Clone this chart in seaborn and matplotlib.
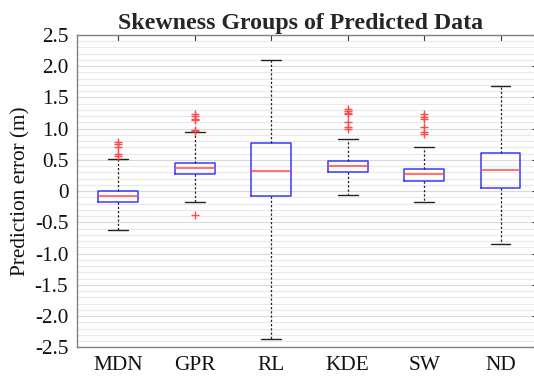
import numpy as np
import pandas as pd
import matplotlib
matplotlib.use("Agg")
import matplotlib.pyplot as plt
from matplotlib.ticker import MultipleLocator, FixedLocator
import seaborn as sns

# ---- data ----
categories = ["MDN", "GPR", "RL", "KDE", "SW", "ND"]
lower_whisker = [-0.63, -0.17, -2.36, -0.06, -0.17, -0.84]
q1 = [-0.18, 0.28, -0.07, 0.31, 0.17, 0.05]
median = [-0.08, 0.37, 0.32, 0.40, 0.28, 0.34]
q3 = [0.00, 0.45, 0.77, 0.48, 0.35, 0.61]
upper_whisker = [0.51, 0.94, 2.10, 0.84, 0.71, 1.68]
outliers_mdn = [0.78, 0.75, 0.70, 0.60, 0.56]
outliers_gpr = [1.24, 1.21, 1.15, 1.14, 0.98, 0.96, -0.38]
outliers_rl = []
outliers_kde = [1.32, 1.29, 1.25, 1.23, 1.10, 1.03, 0.99]
outliers_sw = [1.23, 1.19, 1.16, 1.02, 0.94, 0.91]
outliers_nd = []
yticks = [2.5, 2.0, 1.5, 1.0, 0.5, 0, -0.5, -1.0, -1.5, -2.0, -2.5]
ytick_labels = ["2.5", "2.0", "1.5", "1.0", "0.5", "0", "-0.5", "-1.0", "-1.5", "-2.0", "-2.5"]

# five-number summaries as long-form data (quartiles computed exactly by seaborn)
rows = []
for i, c in enumerate(categories):
    for v in (lower_whisker[i], q1[i], median[i], q3[i], upper_whisker[i]):
        rows.append({"group": c, "value": v})
df_box = pd.DataFrame(rows)

out_lists = [outliers_mdn, outliers_gpr, outliers_rl, outliers_kde, outliers_sw, outliers_nd]
orows = []
for c, lst in zip(categories, out_lists):
    for v in lst:
        orows.append({"group": c, "value": v})
df_out = pd.DataFrame(orows)

sns.set_style("white")
plt.rcParams["font.family"] = ["Liberation Serif", "DejaVu Serif"]

fig = plt.figure(figsize=(5.34, 3.81), dpi=100)
ax = fig.add_axes([76.7 / 534, 1 - 347.3 / 381, (538 - 76.7) / 534, (347.3 - 35) / 381])

# grid
ax.set_axisbelow(True)
ax.yaxis.set_minor_locator(MultipleLocator(0.1))
ax.grid(True, which="minor", axis="y", color="#e9e9e9", linewidth=0.8)
ax.grid(True, which="major", axis="y", color="#dadada", linewidth=0.8)
ax.grid(True, which="major", axis="x", color="#dadada", linewidth=0.8)

box_blue = "#3a3aff"
sns.boxplot(data=df_box, x="group", y="value", order=categories, ax=ax,
            whis=np.inf, width=0.52, fill=False, color=box_blue,
            linewidth=1.1, showfliers=False,
            medianprops=dict(color="#ff4a4a", linewidth=1.1),
            whiskerprops=dict(color="#222222", linestyle=(0, (1.8, 1.6)), linewidth=0.9),
            capprops=dict(color="#222222", linewidth=1.0))

sns.stripplot(data=df_out, x="group", y="value", order=categories, ax=ax,
              jitter=False, marker="+", color="#ff4a4a", size=6, linewidth=1.0)

ax.set_xlim(-0.545, 5.49)
ax.set_ylim(-2.5, 2.5)
ax.yaxis.set_major_locator(FixedLocator(yticks))
ax.set_yticklabels(ytick_labels)

ax.set_xlabel("")
ax.set_ylabel("Prediction error (m)", fontsize=15.3, color="#111111", labelpad=3)
ax.set_title("Skewness Groups of Predicted Data", fontsize=17.2, fontweight="bold",
             pad=4, x=0.485)

ax.tick_params(axis="both", which="major", direction="in", length=4,
               labelsize=15.3, colors="#333333", labelcolor="#111111",
               top=True, right=True, pad=6)
ax.tick_params(axis="y", which="minor", length=0)
for s in ax.spines.values():
    s.set_color("#808080")
    s.set_linewidth(1.0)

fig.savefig("out.png", dpi=100)
